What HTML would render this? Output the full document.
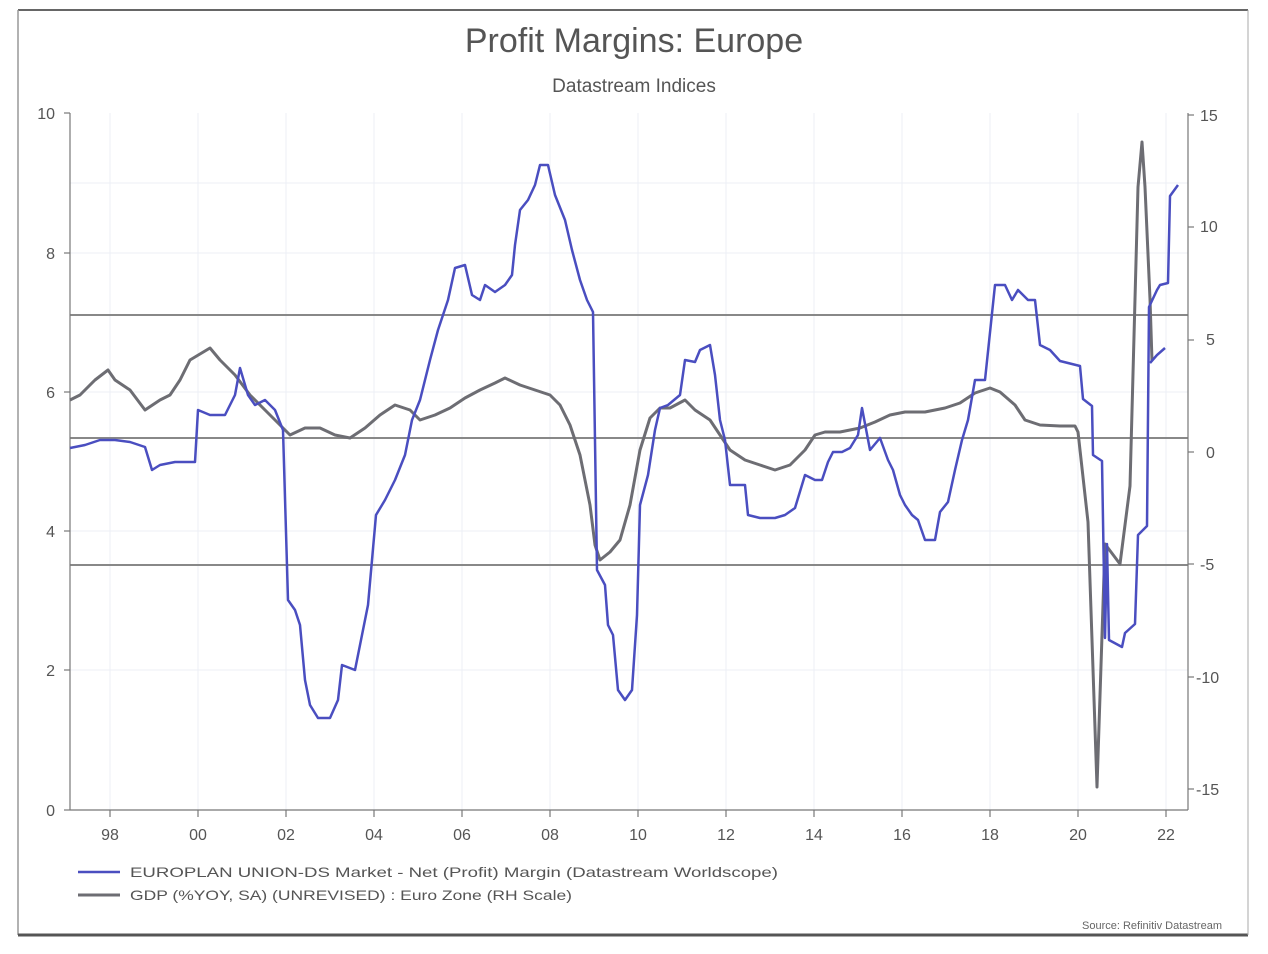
<!DOCTYPE html>
<html><head><meta charset="utf-8"><style>
body{margin:0;background:#fff;}
svg{display:block;font-family:"Liberation Sans",sans-serif;}
</style></head><body>
<svg width="1268" height="954" viewBox="0 0 1268 954">
<rect x="0" y="0" width="1268" height="954" fill="#fff"/>
<line x1="18" y1="10" x2="1248" y2="10" stroke="#666" stroke-width="2"/>
<line x1="18" y1="10" x2="18" y2="935" stroke="#999" stroke-width="1.5"/>
<line x1="18" y1="935" x2="1248" y2="935" stroke="#555" stroke-width="3"/>
<line x1="1248" y1="10" x2="1248" y2="935" stroke="#aaa" stroke-width="1"/>
<text x="634" y="52" text-anchor="middle" font-size="34" fill="#555">Profit Margins: Europe</text>
<text x="634" y="92" text-anchor="middle" font-size="19" fill="#555">Datastream Indices</text>
<g stroke="#eceff5" stroke-width="1">
<line x1="110" y1="113" x2="110" y2="810"/><line x1="198" y1="113" x2="198" y2="810"/><line x1="286" y1="113" x2="286" y2="810"/><line x1="374" y1="113" x2="374" y2="810"/><line x1="462" y1="113" x2="462" y2="810"/><line x1="550" y1="113" x2="550" y2="810"/><line x1="638" y1="113" x2="638" y2="810"/><line x1="726" y1="113" x2="726" y2="810"/><line x1="814" y1="113" x2="814" y2="810"/><line x1="902" y1="113" x2="902" y2="810"/><line x1="990" y1="113" x2="990" y2="810"/><line x1="1078" y1="113" x2="1078" y2="810"/><line x1="1166" y1="113" x2="1166" y2="810"/>
<line x1="70" y1="183" x2="1188" y2="183"/><line x1="70" y1="253" x2="1188" y2="253"/><line x1="70" y1="392" x2="1188" y2="392"/><line x1="70" y1="531" x2="1188" y2="531"/><line x1="70" y1="670" x2="1188" y2="670"/>
</g>
<g stroke="#888" stroke-width="2">
<line x1="70" y1="315" x2="1188" y2="315"/><line x1="70" y1="438" x2="1188" y2="438"/><line x1="70" y1="565" x2="1188" y2="565"/>
</g>
<g stroke="#777" stroke-width="1.2">
<line x1="70" y1="113" x2="70" y2="810"/><line x1="1188" y1="113" x2="1188" y2="810"/><line x1="70" y1="810" x2="1188" y2="810"/>
<line x1="64" y1="113" x2="70" y2="113"/><line x1="64" y1="253" x2="70" y2="253"/><line x1="64" y1="392" x2="70" y2="392"/><line x1="64" y1="531" x2="70" y2="531"/><line x1="64" y1="670" x2="70" y2="670"/><line x1="64" y1="810" x2="70" y2="810"/>
<line x1="1188" y1="115" x2="1194" y2="115"/><line x1="1188" y1="227" x2="1194" y2="227"/><line x1="1188" y1="340" x2="1194" y2="340"/><line x1="1188" y1="452" x2="1194" y2="452"/><line x1="1188" y1="564" x2="1194" y2="564"/><line x1="1188" y1="677" x2="1194" y2="677"/><line x1="1188" y1="789" x2="1194" y2="789"/>
<line x1="110" y1="810" x2="110" y2="817"/><line x1="198" y1="810" x2="198" y2="817"/><line x1="286" y1="810" x2="286" y2="817"/><line x1="374" y1="810" x2="374" y2="817"/><line x1="462" y1="810" x2="462" y2="817"/><line x1="550" y1="810" x2="550" y2="817"/><line x1="638" y1="810" x2="638" y2="817"/><line x1="726" y1="810" x2="726" y2="817"/><line x1="814" y1="810" x2="814" y2="817"/><line x1="902" y1="810" x2="902" y2="817"/><line x1="990" y1="810" x2="990" y2="817"/><line x1="1078" y1="810" x2="1078" y2="817"/><line x1="1166" y1="810" x2="1166" y2="817"/>
</g>
<g font-size="16" fill="#555">
<text x="55" y="119" text-anchor="end">10</text><text x="55" y="259" text-anchor="end">8</text><text x="55" y="398" text-anchor="end">6</text><text x="55" y="537" text-anchor="end">4</text><text x="55" y="676" text-anchor="end">2</text><text x="55" y="816" text-anchor="end">0</text>
<text x="1200" y="121">15</text><text x="1200" y="232">10</text><text x="1206" y="345">5</text><text x="1206" y="458">0</text><text x="1200" y="570">-5</text><text x="1196" y="683">-10</text><text x="1196" y="795">-15</text>
<text x="110" y="840" text-anchor="middle">98</text><text x="198" y="840" text-anchor="middle">00</text><text x="286" y="840" text-anchor="middle">02</text><text x="374" y="840" text-anchor="middle">04</text><text x="462" y="840" text-anchor="middle">06</text><text x="550" y="840" text-anchor="middle">08</text><text x="638" y="840" text-anchor="middle">10</text><text x="726" y="840" text-anchor="middle">12</text><text x="814" y="840" text-anchor="middle">14</text><text x="902" y="840" text-anchor="middle">16</text><text x="990" y="840" text-anchor="middle">18</text><text x="1078" y="840" text-anchor="middle">20</text><text x="1166" y="840" text-anchor="middle">22</text>
</g>
<polyline fill="none" stroke="#6d6d73" stroke-width="3" stroke-linejoin="round" points="70,400 80,395 95,380 108,370 115,380 130,390 145,410 160,400 170,395 180,380 190,360 210,348 220,360 235,375 250,395 265,410 280,425 290,435 305,428 320,428 335,435 350,438 365,428 380,415 395,405 410,410 420,420 435,415 450,408 465,398 480,390 495,383 505,378 520,385 535,390 550,395 560,405 570,425 580,455 590,505 595,545 600,560 610,552 620,540 630,505 640,450 650,418 660,408 670,408 685,400 695,410 710,420 720,435 730,450 745,460 760,465 775,470 790,465 805,450 815,435 825,432 840,432 860,428 875,422 890,415 905,412 925,412 945,408 960,403 975,393 990,388 1000,392 1015,405 1025,420 1040,425 1060,426 1075,426 1078,432 1088,522 1097,787 1105,544 1120,564 1130,486 1138,187 1142,142 1145,187 1150,299 1152,361"/>
<polyline fill="none" stroke="#4a4ec0" stroke-width="2.5" stroke-linejoin="round" points="70,448 85,445 100,440 115,440 130,442 145,447 152,470 160,465 175,462 195,462 198,410 210,415 225,415 235,395 240,368 248,395 255,405 265,400 275,410 283,430 288,600 295,610 300,625 305,680 310,705 318,718 330,718 338,700 342,665 355,670 362,635 368,605 372,560 376,515 385,500 395,480 405,455 412,420 420,400 430,360 438,330 448,300 455,268 465,265 472,295 480,300 485,285 495,292 505,285 512,275 515,245 520,210 528,200 535,185 540,165 548,165 555,195 565,220 572,250 580,280 587,300 593,312 597,570 605,585 608,625 613,635 618,690 625,700 632,690 637,615 640,505 648,475 655,430 660,408 668,405 680,395 685,360 695,362 700,350 710,345 715,375 720,420 725,440 730,485 745,485 748,515 760,518 775,518 785,515 795,508 805,475 815,480 822,480 828,462 833,452 842,452 850,448 858,435 862,408 870,450 880,438 888,460 893,470 900,495 905,505 912,515 918,520 925,540 935,540 940,512 948,502 955,470 962,440 968,420 975,380 985,380 995,285 1005,285 1012,300 1018,290 1028,300 1035,300 1040,345 1050,350 1060,361 1080,366 1083,399 1092,406 1093,455 1102,461 1105,638 1107,544 1109,640 1122,647 1125,633 1135,624 1138,535 1147,526 1149,307 1157,290 1160,285 1168,283 1170,196 1178,185"/>
<polyline fill="none" stroke="#4a4ec0" stroke-width="2.5" points="1150,363 1157,355 1165,348"/>
<line x1="78" y1="872" x2="120" y2="872" stroke="#4a4ec0" stroke-width="2.5"/>
<line x1="78" y1="895" x2="120" y2="895" stroke="#6d6d73" stroke-width="3"/>
<g font-size="14" fill="#555">
<text x="130" y="877" textLength="648" lengthAdjust="spacingAndGlyphs">EUROPLAN UNION-DS Market - Net (Profit) Margin (Datastream Worldscope)</text>
<text x="130" y="900" textLength="442" lengthAdjust="spacingAndGlyphs">GDP (%YOY, SA) (UNREVISED) : Euro Zone (RH Scale)</text>
</g>
<text x="1222" y="929" text-anchor="end" font-size="11" fill="#666">Source: Refinitiv Datastream</text>
</svg>
</body></html>
